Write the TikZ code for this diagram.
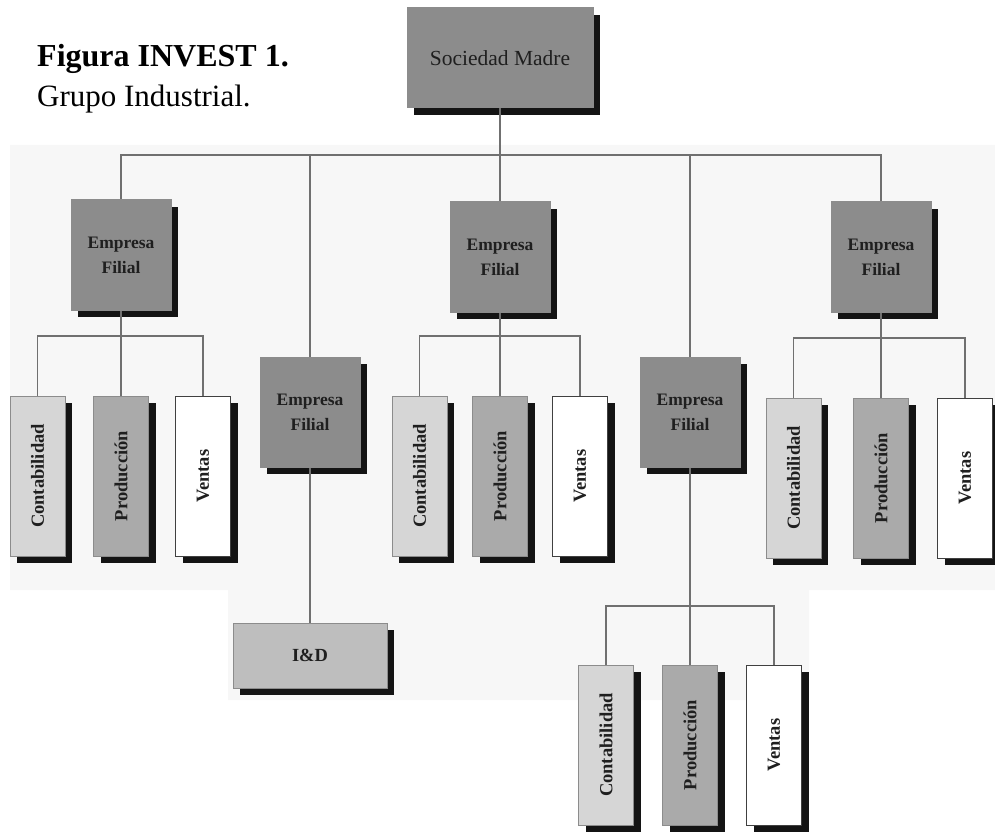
\documentclass[tikz,border=0pt]{standalone}
\usepackage{fontspec}
\setmainfont{Liberation Serif}
\usepackage{graphicx}
\usetikzlibrary{shadows}
\definecolor{efgray}{HTML}{8C8C8C}
\definecolor{contgray}{HTML}{D6D6D6}
\definecolor{prodgray}{HTML}{AAAAAA}
\definecolor{idgray}{HTML}{BEBEBE}
\definecolor{linegray}{HTML}{707070}
\definecolor{bgfaint}{HTML}{F7F7F7}
\begin{document}
\begin{tikzpicture}[x=1pt,y=-1pt,
  box/.style={rectangle, inner sep=0pt, draw=black!45, line width=1pt,
    text=black!88, align=center,
    general shadow={fill=black!92, shadow xshift=7pt, shadow yshift=-7pt}},
  filbox/.style={box, fill=efgray, minimum width=100pt, minimum height=110pt,
    font=\fontsize{17.5}{25}\selectfont\bfseries},
  sub/.style={box, minimum width=55pt, minimum height=160pt,
    font=\fontsize{18.5}{20}\selectfont\bfseries},
  contbox/.style={sub, fill=contgray},
  prodbox/.style={sub, fill=prodgray},
  ventbox/.style={sub, fill=white, draw=black!75},
  conn/.style={draw=linegray, line width=1.8pt}]
\useasboundingbox (0,0) rectangle (995,834);
% faint background
\fill[bgfaint] (10,145) -- (995,145) -- (995,590) -- (809,590) -- (809,700)
  -- (228,700) -- (228,590) -- (10,590) -- cycle;
% title
\node[anchor=base west, inner sep=0pt, font=\fontsize{32}{32}\selectfont\bfseries] (t1) at (37,67) {Figura INVEST 1.};
\node[anchor=base west, inner sep=0pt, font=\fontsize{31}{31}\selectfont] (t2) at (37,107) {Grupo Industrial.};
% top
\node[box, fill=efgray, minimum width=186pt, minimum height=100pt,
  font=\fontsize{21.5}{24}\selectfont] (SM) at (500,58) {Sociedad Madre};
% filiales
\node[filbox] (E1) at (121,255) {Empresa\\Filial};
\node[filbox] (E2) at (310,412) {Empresa\\Filial};
\node[filbox] (E3) at (500,257) {Empresa\\Filial};
\node[filbox] (E4) at (690,412) {Empresa\\Filial};
\node[filbox] (E5) at (881,257) {Empresa\\Filial};
% group 1
\node[contbox] (C1) at (37.5,476) {\rotatebox{90}{Contabilidad}};
\node[prodbox] (P1) at (121,476) {\rotatebox{90}{Producción}};
\node[ventbox] (V1) at (203,476) {\rotatebox{90}{Ventas}};
% group 3
\node[contbox] (C3) at (419.5,476) {\rotatebox{90}{Contabilidad}};
\node[prodbox] (P3) at (500,476) {\rotatebox{90}{Producción}};
\node[ventbox] (V3) at (580,476) {\rotatebox{90}{Ventas}};
% group 4
\node[contbox] (C4) at (606,745) {\rotatebox{90}{Contabilidad}};
\node[prodbox] (P4) at (690,745) {\rotatebox{90}{Producción}};
\node[ventbox] (V4) at (774,745) {\rotatebox{90}{Ventas}};
% group 5
\node[contbox] (C5) at (793.5,478) {\rotatebox{90}{Contabilidad}};
\node[prodbox] (P5) at (881,478) {\rotatebox{90}{Producción}};
\node[ventbox] (V5) at (965,478) {\rotatebox{90}{Ventas}};
% I&D
\node[box, fill=idgray, minimum width=154pt, minimum height=65pt,
  font=\fontsize{18.5}{20}\selectfont\bfseries] (ID) at (310,655.5) {I\&D};
% connectors
\coordinate (tb) at (500,155);
\draw[conn] (SM.south) -- (tb);
\draw[conn] (tb) -| (E1.north);
\draw[conn] (tb) -| (E2.north);
\draw[conn] (tb) -- (E3.north);
\draw[conn] (tb) -| (E4.north);
\draw[conn] (tb) -| (E5.north);
\coordinate (b1) at (121,336);
\draw[conn] (E1.south) -- (P1.north);
\draw[conn] (b1) -| (C1.north);
\draw[conn] (b1) -| (V1.north);
\coordinate (b3) at (500,336);
\draw[conn] (E3.south) -- (P3.north);
\draw[conn] (b3) -| (C3.north);
\draw[conn] (b3) -| (V3.north);
\coordinate (b5) at (881,338);
\draw[conn] (E5.south) -- (P5.north);
\draw[conn] (b5) -| (C5.north);
\draw[conn] (b5) -| (V5.north);
\coordinate (b4) at (690,606);
\draw[conn] (E4.south) -- (P4.north);
\draw[conn] (b4) -| (C4.north);
\draw[conn] (b4) -| (V4.north);
\draw[conn] (E2.south) -- (ID.north);
\end{tikzpicture}
\end{document}
